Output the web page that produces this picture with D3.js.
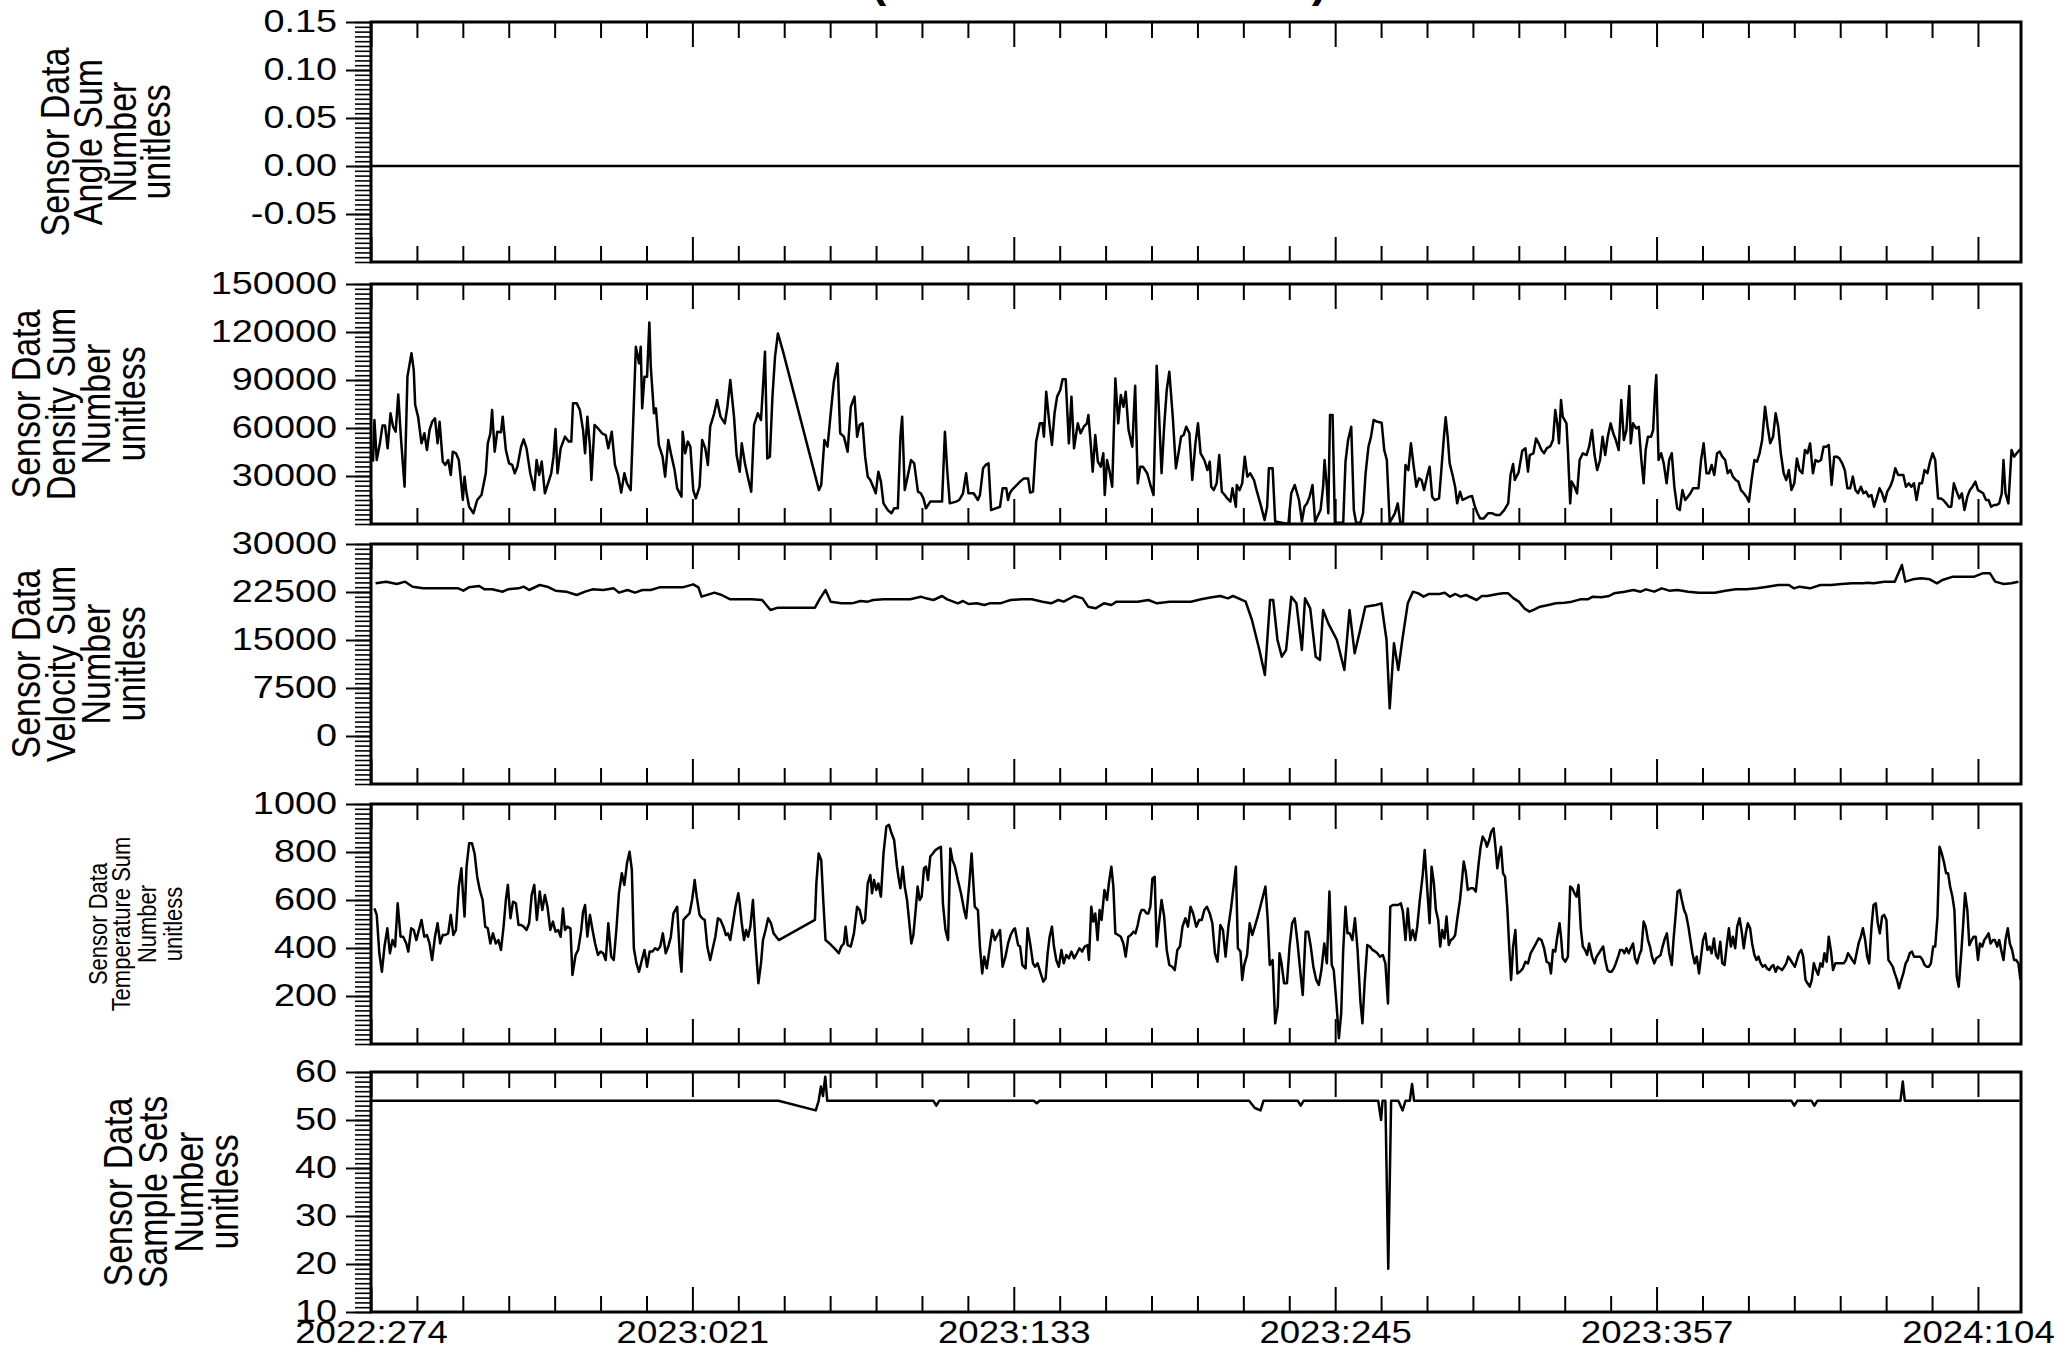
<!DOCTYPE html>
<html>
<head>
<meta charset="utf-8">
<script src="https://cdn.jsdelivr.net/npm/d3@7"></script>
<style>
  body { margin:0; background:#fff; }
  svg { display:block; }
  text { font-family:"Liberation Sans", Arial, Helvetica, sans-serif; fill:#000; }
</style>
</head>
<body>
<script>
// ---- data ----
// x is days since 2022:274
var xDomain = [0, 575];
var majorDays = [0, 112, 224, 336, 448, 560];
var majorLabels = ["2022:274", "2023:021", "2023:133", "2023:245", "2023:357", "2024:104"];
var minorStep = 16;

var panelTitles = [
  ["Sensor Data", "Angle Sum", "Number", "unitless"],
  ["Sensor Data", "Density Sum", "Number", "unitless"],
  ["Sensor Data", "Velocity Sum", "Number", "unitless"],
  ["Sensor Data", "Temperature Sum", "Number", "unitless"],
  ["Sensor Data", "Sample Sets", "Number", "unitless"]
];
var yDomains = [[-0.10, 0.15], [0, 150000], [-7500, 30000], [0, 1000], [10, 60]];
var yTicks = [
  [-0.05, 0, 0.05, 0.10, 0.15],
  [30000, 60000, 90000, 120000, 150000],
  [0, 7500, 15000, 22500, 30000],
  [200, 400, 600, 800, 1000],
  [10, 20, 30, 40, 50, 60]
];
var yDecimals = [2, 0, 0, 0, 0];

var angleSum = [[0, 0], [574.5, 0]];

var densitySum = [[0.7,39000],[1.2,65000],[2.0,40000],[3.1,50400],[4.0,61500],[4.9,61500],[5.8,47300],[6.8,69200],[7.7,60800],[8.6,57700],[9.5,81000],[10.4,54600],[11.7,23300],[12.7,92100],[14.1,106700],[14.9,96200],[15.4,74400],[16.4,67100],[17.6,50400],[18.6,56700],[19.5,46200],[20.4,58700],[21.3,63900],[22.3,66000],[23.2,50400],[23.9,63900],[25.0,39000],[25.9,36900],[26.9,40000],[27.8,30600],[28.5,45200],[29.6,44200],[30.6,40000],[31.5,24400],[32.0,15000],[32.6,29600],[33.3,19200],[34.2,10800],[35.7,6700],[37.0,15000],[38.5,18100],[40.0,31700],[40.7,50400],[41.6,56700],[42.2,71200],[43.1,45200],[44.0,57700],[45.3,57300],[45.9,67100],[47.0,46200],[48.1,37900],[49.2,36900],[50.1,31700],[51.0,35800],[52.3,48300],[53.2,52900],[54.2,47300],[55.5,31700],[56.9,21200],[57.7,40000],[58.6,30600],[59.5,39000],[60.6,19200],[61.7,25400],[62.8,31700],[63.6,42100],[64.3,59400],[65.0,31700],[66.1,47300],[67.6,54600],[68.9,51500],[69.8,51500],[70.4,75400],[71.7,75400],[72.8,71200],[73.9,58700],[74.6,44200],[75.4,67100],[76.3,48300],[76.8,27500],[77.9,61900],[79.1,59800],[80.5,56700],[81.8,55600],[82.7,47300],[83.9,57700],[85.0,36900],[86.1,30600],[87.2,19600],[88.3,31700],[89.2,25400],[90.5,21200],[91.4,65000],[92.3,110800],[93.4,100400],[94.0,110800],[94.5,72300],[95.3,92100],[96.2,92100],[97.0,126000],[97.5,98300],[98.6,69200],[99.3,72300],[100.3,49400],[101.6,42100],[102.5,29600],[103.6,52500],[104.5,44200],[105.8,33700],[106.7,22300],[108.2,17100],[108.6,57700],[109.5,44200],[110.4,51500],[111.3,48300],[112.3,21200],[113.2,16000],[114.5,23300],[115.4,52500],[116.5,47300],[117.4,36900],[118.2,60800],[119.6,69200],[120.6,77500],[121.8,67100],[123.3,62900],[124.2,73300],[125.2,90000],[126.5,67100],[127.4,43100],[128.5,32700],[129.2,50400],[130.3,37900],[131.3,29600],[132.5,20200],[133.5,61900],[134.8,69200],[135.9,65000],[136.6,85800],[137.3,107700],[138.1,41000],[139.0,42100],[139.9,79600],[140.8,104600],[141.8,119100],[143.6,107700],[156.1,21200],[156.9,24400],[158.0,52500],[159.1,48300],[160.2,69200],[161.3,88900],[162.6,100400],[163.5,56700],[164.8,54600],[166.1,45200],[167.2,73300],[168.5,79600],[169.4,54600],[170.3,61900],[171.3,62900],[172.2,42100],[173.1,29600],[174.0,27500],[175.0,23300],[175.9,19200],[176.8,32700],[177.7,26500],[178.6,12900],[180.1,8700],[181.4,6700],[182.3,9800],[183.6,9800],[184.5,54600],[185.1,67100],[186.0,21200],[187.0,29600],[188.2,40000],[189.3,37900],[190.6,20200],[191.6,19200],[192.5,16000],[193.4,9800],[194.9,14000],[199.0,14000],[200.0,57700],[200.8,33700],[201.7,12900],[203.9,14000],[205.0,15000],[206.3,19200],[207.4,31700],[208.2,19200],[210.0,19200],[211.5,15000],[212.2,18100],[213.3,34800],[214.2,36900],[215.2,37900],[216.1,8700],[219.2,10800],[220.1,22300],[221.4,22300],[222.0,15000],[222.6,19200],[223.3,21200],[226.2,26500],[227.5,28500],[229.0,28500],[229.7,19600],[230.7,20200],[231.8,51500],[233.1,62900],[234.0,62900],[234.5,54600],[235.3,82700],[236.4,62900],[237.3,49400],[238.2,69200],[239.1,79600],[240.2,83700],[241.0,90400],[242.1,90400],[243.2,50400],[244.1,79600],[245.0,47300],[246.3,62900],[247.3,56700],[248.4,60800],[249.5,62900],[250.0,68100],[250.8,50400],[251.5,32700],[252.4,55600],[253.3,39000],[254.3,35800],[255.2,44200],[255.7,18100],[256.5,40000],[257.4,32700],[258.3,23300],[259.4,91000],[260.4,62900],[261.3,80600],[262.2,73300],[263.0,82700],[264.0,58700],[265.3,48300],[266.3,86400],[267.2,25400],[268.1,35800],[269.0,35800],[270.5,31700],[271.8,23300],[272.7,18100],[273.8,98900],[274.6,69200],[275.5,31700],[276.4,60800],[277.3,83700],[278.2,95200],[279.4,67100],[280.5,34800],[281.4,44200],[282.3,54600],[283.2,55600],[284.1,60800],[285.2,56700],[286.2,27500],[287.3,50400],[288.2,62900],[289.1,44200],[290.4,40000],[291.5,33700],[292.3,39000],[292.8,23300],[293.7,21200],[294.7,25400],[295.6,43100],[296.5,20200],[297.5,18100],[298.4,16000],[299.5,14000],[300.2,22300],[301.4,10800],[301.7,24400],[302.7,21200],[303.6,25400],[304.5,42100],[305.4,29600],[306.4,31700],[307.7,27500],[308.6,21200],[309.9,12900],[311.4,2500],[312.3,10800],[312.9,34800],[314.2,34800],[315.1,1500],[319.7,0],[320.7,19200],[321.9,24400],[323.4,15000],[324.4,1500],[325.3,10800],[326.2,12900],[327.1,17100],[328.1,24400],[329.0,1500],[330.9,8700],[331.8,23300],[332.3,40000],[333.1,23300],[333.6,6700],[334.2,68100],[335.1,68100],[335.9,800],[338.8,800],[339.6,39000],[340.5,52500],[341.6,60800],[342.5,8700],[343.3,800],[344.8,800],[345.7,6700],[346.6,31700],[347.6,48300],[348.5,54600],[349.4,65000],[350.7,63900],[352.2,63300],[353.1,46200],[354.0,40000],[355.0,800],[356.8,6700],[357.8,12900],[358.7,800],[359.6,800],[360.5,36900],[361.5,33700],[362.4,50400],[363.3,36900],[364.3,23300],[365.2,28500],[366.1,27500],[367.0,21200],[368.0,29600],[368.9,35800],[369.8,17100],[370.7,15000],[372.2,16000],[373.0,33700],[373.9,54600],[374.5,66700],[375.2,54600],[375.9,37900],[376.9,30600],[377.8,23300],[378.5,12900],[379.5,20200],[380.4,15000],[381.5,16000],[382.8,17100],[383.7,17500],[384.7,10800],[385.6,6700],[386.5,3500],[387.8,3500],[389.3,6700],[390.8,6700],[392.1,5600],[393.4,5600],[394.9,8700],[396.3,12900],[397.1,30600],[398.0,37500],[398.6,27500],[399.9,32100],[401.2,45800],[402.3,47300],[403.2,32700],[403.8,43100],[405.1,44200],[406.0,53500],[406.9,50400],[407.9,46200],[408.8,44200],[409.7,47300],[411.0,48700],[411.9,52500],[412.7,71200],[413.4,62900],[414.0,50400],[414.7,77500],[415.3,67100],[416.6,62900],[417.1,46200],[417.9,12900],[418.4,26500],[419.4,23300],[420.3,19200],[421.2,40000],[422.3,44200],[423.6,43100],[424.5,48300],[425.5,58700],[426.4,43100],[427.3,33700],[428.3,40000],[429.2,54600],[430.1,43100],[431.0,54600],[432.0,62900],[432.9,56700],[433.8,52500],[434.8,46200],[435.7,77500],[436.6,52500],[437.5,58700],[438.5,86200],[439.0,50400],[439.8,62900],[440.9,59800],[441.8,60800],[442.7,40000],[443.5,25400],[444.2,46200],[445.0,54600],[446.1,54600],[446.8,58700],[447.5,83700],[447.9,93100],[448.7,40000],[449.6,44200],[450.5,37900],[451.5,25400],[452.4,40000],[453.3,44200],[454.2,23300],[455.2,9800],[456.1,8700],[457.0,21200],[458.0,15000],[458.9,17100],[459.8,19200],[460.7,22300],[462.6,22300],[463.5,40000],[464.4,50400],[465.4,31700],[466.3,31700],[467.2,36900],[468.1,30600],[469.1,44200],[470.0,45200],[470.9,42100],[471.9,40000],[472.8,31700],[473.7,33700],[474.6,29600],[475.6,27500],[476.5,26500],[477.4,21200],[478.4,19200],[479.3,17100],[480.2,14000],[481.1,27500],[482.1,40000],[483.0,39000],[483.9,44200],[484.8,52500],[485.8,73300],[486.7,60800],[487.6,50400],[488.6,54600],[489.5,69200],[490.4,60800],[491.3,44200],[492.3,31700],[493.2,27500],[494.1,33700],[495.0,21200],[496.0,25400],[496.9,41000],[497.8,33700],[498.8,31700],[499.7,46200],[500.6,44200],[501.5,50400],[502.5,31700],[503.4,40000],[504.3,39000],[505.3,40000],[506.2,48300],[507.1,48300],[508.0,49400],[509.0,24400],[509.9,42100],[510.8,42100],[511.7,41000],[512.7,37900],[513.6,33700],[514.5,22300],[515.5,22300],[516.4,29600],[517.3,21200],[518.2,19200],[519.2,23300],[520.1,19200],[521.0,20200],[521.9,17100],[522.9,18100],[523.8,10800],[524.7,16000],[525.7,22300],[526.6,19200],[527.5,14000],[528.4,20200],[529.4,23300],[530.3,27500],[531.2,34800],[532.2,30600],[534.0,30600],[534.9,23300],[535.9,25400],[536.8,23300],[537.7,25400],[538.6,15000],[539.6,25400],[540.5,25400],[541.4,33700],[542.4,31700],[543.3,39000],[544.2,44200],[545.1,40000],[546.1,16000],[547.0,16000],[547.9,15000],[548.9,12900],[549.8,10800],[550.7,10800],[551.6,25400],[552.6,20200],[553.5,16000],[554.4,19200],[555.3,8700],[556.3,17100],[557.2,21200],[558.1,23300],[559.1,26500],[560.0,21200],[560.9,20200],[561.8,19200],[562.8,15000],[563.7,15000],[564.6,10800],[565.6,11900],[566.5,11900],[567.4,12900],[568.3,19200],[568.9,40000],[569.6,19200],[570.6,12900],[571.1,27500],[571.7,46200],[572.6,42100],[573.5,44200],[574.5,46200],[575.4,47300]];

var velocitySum = [[1.6,23854],[5.3,24115],[9.0,23750],[11.9,24115],[14.5,23333],[18.2,23073],[23.7,23073],[30.4,23073],[32.2,22708],[34.1,23229],[37.7,23438],[39.6,22917],[42.2,22917],[45.9,22552],[47.7,22917],[51.4,23073],[53.2,23333],[55.1,22813],[58.8,23594],[61.4,23333],[64.3,22708],[68.0,22552],[71.7,22031],[74.6,22552],[77.2,22917],[80.9,22813],[84.6,23073],[86.4,22396],[89.4,22813],[92.0,22396],[94.6,22813],[97.5,22813],[100.5,23229],[104.9,23229],[108.6,23229],[112.3,23698],[114.1,23229],[115.2,21771],[119.7,22396],[122.2,22031],[125.2,21354],[127.8,21354],[132.6,21354],[136.3,21250],[139.2,19688],[141.8,20052],[145.5,20052],[151.0,20052],[154.7,20052],[156.5,21510],[158.4,22813],[160.2,20990],[163.9,20729],[167.6,20729],[170.6,21094],[173.1,20990],[175.0,21250],[178.7,21354],[182.4,21354],[187.9,21354],[191.6,21771],[193.4,21510],[196.0,21250],[199.0,21875],[200.8,21354],[204.5,20729],[206.3,21094],[208.2,20625],[211.1,20729],[213.7,20469],[215.6,20729],[219.3,20729],[221.1,20990],[222.9,21250],[226.6,21354],[230.3,21354],[234.0,20990],[237.0,20729],[239.5,21250],[241.4,20990],[245.1,21875],[248.0,21510],[249.9,20208],[252.5,19948],[255.4,20729],[258.0,20469],[259.8,20990],[263.5,20990],[267.2,20990],[270.9,21250],[273.9,20729],[278.3,20990],[282.0,20990],[285.7,20990],[289.3,21354],[293.0,21667],[296.0,21875],[298.6,21510],[300.4,21875],[302.3,21510],[304.8,20990],[307.0,18125],[309.6,13437],[311.5,9531],[313.3,21250],[314.4,21250],[315.9,15000],[317.4,12396],[318.9,13437],[320.7,21771],[322.5,20729],[324.4,13437],[325.5,21510],[327.3,19948],[329.2,12396],[330.7,11875],[331.8,19688],[333.6,17604],[336.6,15000],[339.2,10312],[341.0,19688],[342.8,12917],[344.7,16563],[346.5,20208],[350.2,20469],[352.1,20729],[353.9,15000],[355.0,4323],[356.5,14479],[358.0,10312],[359.4,15000],[361.3,20729],[363.1,22552],[365.0,22292],[366.8,21771],[368.7,22188],[372.3,22188],[374.2,22396],[376.0,21771],[377.9,22188],[379.7,21771],[381.6,22031],[385.3,21250],[387.1,21875],[389.0,21875],[392.6,22188],[394.5,22292],[396.3,22292],[398.2,21510],[400.0,20990],[401.9,19948],[403.7,19427],[405.5,19792],[407.4,20208],[410.3,20469],[412.9,20729],[415.9,20833],[418.5,20990],[421.4,21354],[424.0,21354],[425.8,21771],[428.8,21667],[431.4,21875],[433.2,22292],[436.9,22552],[439.9,22813],[442.4,22552],[444.3,22917],[447.2,22552],[449.8,23073],[452.4,22708],[455.3,22813],[459.0,22552],[462.7,22396],[468.3,22396],[472.0,22708],[475.6,22917],[479.3,22917],[483.0,23073],[486.7,23333],[490.4,23594],[494.1,23594],[495.9,23073],[497.8,23333],[501.5,23073],[505.1,23594],[508.8,23594],[512.5,23750],[516.2,23854],[519.9,23854],[521.7,23958],[523.6,23854],[527.3,24115],[531.0,24115],[533.5,26719],[534.7,24115],[537.3,24479],[540.2,24635],[543.2,24479],[545.7,23854],[547.6,24375],[551.3,24896],[555.0,24896],[558.7,24896],[561.6,25417],[564.2,25417],[566.0,24115],[569.0,23750],[571.6,23854],[574.1,24115]];

var temperatureSum = [[1.2,565],[2.0,538],[2.9,378],[3.8,301],[4.7,406],[5.7,482],[6.6,378],[7.5,433],[8.4,406],[9.3,586],[10.3,447],[11.2,447],[12.3,419],[13.0,385],[14.0,482],[14.9,475],[15.8,433],[16.7,475],[17.6,517],[18.6,447],[19.5,454],[20.4,419],[21.3,350],[22.3,447],[23.2,503],[24.1,419],[25.0,454],[25.9,454],[26.9,461],[27.8,538],[28.7,454],[29.6,475],[30.6,656],[31.5,732],[32.0,635],[32.6,531],[33.3,739],[34.2,836],[35.2,836],[36.1,794],[37.0,697],[37.9,642],[38.9,600],[39.8,489],[40.7,482],[41.6,419],[42.5,461],[43.5,419],[44.4,433],[45.3,392],[46.2,489],[47.0,600],[47.7,663],[48.6,524],[49.5,593],[50.5,586],[51.4,496],[52.3,496],[53.2,489],[54.2,475],[55.1,503],[56.0,621],[56.9,663],[57.8,517],[58.8,635],[59.7,558],[60.6,621],[61.5,572],[62.5,475],[63.4,510],[64.3,468],[65.2,475],[66.1,447],[66.9,565],[67.6,475],[68.4,489],[69.5,482],[70.2,288],[71.3,371],[72.2,392],[73.2,468],[73.9,551],[74.6,579],[75.4,447],[76.3,538],[77.2,475],[78.1,419],[79.1,371],[80.0,385],[80.9,378],[81.8,350],[82.7,503],[83.7,364],[84.6,350],[85.5,475],[86.4,628],[87.4,711],[88.3,663],[89.2,753],[90.1,801],[90.9,725],[91.6,399],[92.5,336],[93.4,301],[94.4,350],[95.3,392],[96.2,322],[97.1,385],[98.1,385],[99.0,399],[99.9,392],[100.8,406],[101.7,461],[102.7,378],[103.6,406],[104.5,447],[105.4,544],[106.7,572],[107.6,371],[108.2,301],[108.9,517],[109.9,531],[111.0,544],[111.9,600],[112.8,683],[113.5,614],[114.5,538],[115.4,524],[116.3,517],[117.2,406],[118.2,350],[119.1,399],[120.0,447],[120.9,524],[121.8,517],[122.8,489],[123.7,454],[124.4,461],[125.2,433],[126.1,503],[127.0,572],[128.0,628],[128.5,586],[129.2,503],[130.0,433],[130.7,475],[131.4,447],[132.2,489],[133.1,600],[134.0,419],[135.0,253],[135.9,336],[136.6,433],[137.5,475],[138.4,524],[139.4,503],[140.3,461],[141.2,447],[142.1,433],[154.7,517],[155.2,669],[156.0,794],[156.9,767],[157.6,600],[158.4,433],[159.8,419],[160.9,406],[162.0,392],[163.0,378],[163.9,406],[164.8,419],[165.4,489],[166.1,412],[167.2,406],[168.3,461],[169.4,572],[170.3,558],[171.3,503],[172.2,517],[173.1,669],[174.0,704],[174.6,628],[175.3,683],[176.1,642],[176.8,669],[177.7,614],[178.6,794],[179.6,906],[180.5,913],[181.4,878],[182.3,850],[183.3,739],[183.8,697],[184.5,649],[185.3,739],[186.0,656],[186.8,600],[187.5,517],[188.3,419],[189.0,454],[189.7,544],[190.5,656],[191.2,600],[191.9,614],[192.7,732],[193.4,739],[194.1,683],[194.9,781],[195.8,794],[196.7,808],[197.6,815],[198.6,822],[199.3,586],[200.2,475],[201.1,433],[201.9,815],[202.6,767],[203.5,739],[204.5,683],[205.6,628],[206.7,558],[207.4,524],[208.5,669],[209.3,794],[210.4,572],[211.5,558],[212.2,406],[213.0,294],[213.7,364],[214.6,315],[215.5,392],[216.5,475],[217.4,433],[218.3,454],[219.2,475],[220.1,322],[221.1,364],[222.0,419],[222.9,454],[223.8,475],[224.4,482],[225.5,412],[226.2,406],[227.0,329],[228.1,315],[228.8,482],[229.7,419],[230.7,336],[231.4,322],[232.3,336],[233.2,301],[234.3,260],[235.1,274],[235.8,378],[236.5,447],[237.3,489],[238.0,406],[238.8,350],[239.7,322],[240.6,392],[241.4,336],[242.3,371],[243.2,357],[244.1,385],[245.0,357],[246.0,378],[246.9,399],[247.8,385],[248.7,406],[249.7,412],[250.2,350],[251.0,572],[251.7,510],[252.4,544],[253.2,433],[253.9,558],[254.6,517],[255.6,642],[256.5,600],[257.2,676],[258.0,739],[258.7,656],[259.4,461],[260.4,454],[261.3,447],[262.2,419],[263.0,364],[263.9,447],[264.8,454],[265.7,468],[266.4,461],[267.2,496],[267.9,538],[268.5,558],[269.4,558],[270.3,544],[270.9,544],[271.6,572],[272.3,690],[273.1,697],[273.8,406],[274.6,503],[275.5,600],[276.4,531],[277.3,392],[278.2,329],[279.2,322],[280.1,308],[281.0,392],[281.9,406],[282.8,489],[283.8,524],[284.7,489],[285.6,572],[286.5,544],[287.6,489],[288.6,517],[289.5,517],[290.4,558],[291.3,572],[292.3,544],[293.2,503],[294.1,378],[295.0,343],[296.0,496],[296.9,475],[297.8,364],[298.8,489],[299.7,565],[300.6,656],[301.4,739],[302.1,399],[303.0,385],[303.6,267],[304.3,329],[305.3,371],[306.2,503],[307.1,454],[308.0,489],[309.0,531],[309.9,572],[310.8,614],[311.7,656],[312.5,517],[313.2,329],[314.2,350],[315.1,86],[316.0,156],[316.6,378],[317.3,336],[318.2,253],[319.2,253],[320.1,406],[321.0,503],[321.9,524],[322.9,419],[323.8,308],[324.7,204],[325.7,468],[326.6,468],[327.5,406],[328.4,322],[329.4,267],[330.3,246],[331.2,308],[332.2,419],[333.1,336],[334.0,635],[334.8,329],[335.5,308],[336.4,176],[337.3,24],[338.1,128],[338.8,392],[339.6,572],[340.3,461],[341.1,461],[342.0,433],[342.9,524],[343.8,392],[344.8,176],[345.5,86],[346.3,260],[347.2,412],[348.1,406],[349.0,392],[350.0,385],[350.7,378],[351.6,364],[352.6,371],[353.5,336],[354.4,169],[355.2,572],[356.1,579],[357.0,579],[357.9,579],[358.9,586],[359.6,551],[360.5,433],[361.3,565],[362.2,433],[363.0,475],[363.9,433],[364.6,489],[365.5,600],[366.5,704],[367.2,808],[368.1,642],[368.9,503],[369.6,739],[370.4,669],[371.1,558],[371.9,517],[372.6,406],[373.3,475],[374.1,440],[374.8,531],[375.6,412],[376.3,433],[377.1,440],[377.8,454],[378.5,517],[379.5,600],[380.2,683],[380.8,760],[381.5,718],[382.2,642],[383.2,649],[384.1,649],[385.0,635],[386.0,753],[386.7,822],[387.4,864],[388.4,843],[388.9,822],[389.7,850],[390.4,885],[391.2,899],[391.9,815],[392.5,732],[393.0,774],[393.8,822],[394.5,711],[395.2,697],[396.0,565],[396.7,392],[397.3,267],[398.0,406],[398.8,475],[399.5,294],[400.4,301],[401.4,315],[402.3,343],[403.2,336],[404.1,378],[405.1,399],[406.0,419],[406.9,440],[407.9,433],[408.8,399],[409.7,343],[410.6,336],[411.2,294],[411.9,392],[412.7,385],[413.4,447],[414.2,503],[414.7,447],[415.3,357],[416.2,343],[417.1,364],[417.9,656],[418.6,649],[419.4,628],[420.1,614],[420.8,663],[421.6,482],[422.3,406],[423.1,392],[423.8,371],[424.5,419],[425.5,364],[426.4,336],[427.1,364],[427.9,378],[428.6,392],[429.4,406],[430.1,350],[430.9,308],[431.6,301],[432.3,301],[433.1,315],[433.8,336],[434.8,371],[435.3,392],[436.1,392],[436.8,378],[437.5,399],[438.3,378],[439.0,399],[439.8,419],[440.5,357],[441.2,336],[442.0,371],[442.7,392],[443.5,510],[444.2,489],[445.0,433],[445.7,406],[446.4,364],[447.2,336],[447.9,357],[448.7,364],[449.4,371],[450.1,406],[450.9,440],[451.6,461],[452.4,378],[453.3,329],[453.9,433],[454.6,531],[455.3,635],[456.1,642],[456.8,600],[457.6,558],[458.3,538],[459.1,489],[459.8,433],[460.5,378],[461.3,336],[462.0,364],[462.8,294],[463.5,364],[464.2,433],[465.0,461],[465.7,392],[466.5,406],[467.2,378],[468.0,440],[468.7,371],[469.4,357],[470.2,426],[470.9,336],[471.7,329],[472.4,406],[473.2,482],[473.9,406],[474.6,447],[475.4,399],[476.1,489],[476.9,524],[477.6,475],[478.4,399],[479.1,461],[479.8,503],[480.6,482],[481.3,419],[482.1,371],[482.8,350],[483.5,364],[484.3,336],[485.0,322],[485.8,329],[486.5,315],[487.3,308],[488.0,322],[488.7,329],[489.5,301],[490.2,322],[491.0,315],[491.7,308],[492.5,322],[493.2,336],[493.9,364],[494.7,350],[495.4,336],[496.2,322],[496.9,350],[497.6,378],[498.4,392],[499.1,364],[499.9,267],[500.6,253],[501.4,239],[502.1,267],[502.8,336],[503.6,308],[504.3,288],[505.1,336],[505.8,322],[506.5,378],[507.3,343],[508.0,447],[508.8,385],[509.5,308],[510.3,336],[513.2,336],[514.0,350],[514.7,378],[515.5,364],[516.2,350],[517.0,336],[517.7,378],[518.4,419],[519.2,447],[519.9,482],[520.7,433],[521.4,364],[522.1,336],[522.9,489],[523.6,579],[524.4,586],[525.1,503],[525.8,461],[526.6,531],[527.3,538],[528.1,517],[528.8,350],[529.6,336],[530.3,322],[531.0,294],[531.8,267],[532.5,232],[533.3,267],[534.0,294],[534.8,336],[535.5,350],[536.2,378],[537.0,385],[537.7,364],[539.9,364],[540.7,350],[541.4,329],[542.2,322],[542.9,322],[543.6,336],[544.4,406],[545.1,406],[545.9,531],[546.6,822],[547.4,794],[548.1,760],[548.9,711],[549.6,711],[550.3,656],[551.1,614],[551.8,558],[552.6,281],[553.3,239],[554.1,364],[554.8,489],[555.5,628],[556.3,558],[557.0,412],[557.8,433],[558.5,447],[559.2,447],[560.0,350],[560.7,419],[561.5,406],[562.2,433],[563.0,447],[563.7,461],[564.4,419],[565.2,433],[565.9,433],[566.7,406],[567.4,433],[568.1,392],[568.9,350],[569.6,433],[570.4,482],[571.1,419],[571.9,392],[572.6,350],[573.3,350],[574.1,336],[574.8,267]];

var sampleSets = [[0,54],[142,54],[155,52],[156,54],[156.8,57],[157.5,55],[158.3,59],[159,54],[196,54],[197,53],[198,54],[231,54],[232,53.5],[233,54],[306,54],[308,52.5],[310,52],[311,54],[323,54],[324,53],[325,54],[351,54],[352,50],[352.5,54],[353.5,54],[354.5,19],[355.5,54],[358,54],[359.5,52],[360.5,54],[362,54],[362.8,57.5],[363.5,54],[495,54],[496,53],[497,54],[502,54],[503,53],[504,54],[533,54],[533.8,58],[534.5,54],[574.5,54]];

var series = [angleSum, densitySum, velocitySum, temperatureSum, sampleSets];

// ---- layout ----
var W = 2070, H = 1346;
var plotLeft = 371, plotRight = 2021;
var panelTops = [22, 284, 544, 804, 1072];
var panelH = 240;
var titleSize = [34, 34, 34, 22, 34];
var titleLines = [[69, 102, 136, 170], [40, 75, 110, 145], [40, 75, 110, 145], [107, 130, 156, 182], [132, 167, 203, 238]];
var wide = 1.18;       // the reference text is drawn wide
var wideTicks = 1.22;  // y tick numbers

var svg = d3.select("body").append("svg")
            .attr("width", W)
            .attr("height", H);

svg.append("rect").attr("width", W).attr("height", H).attr("fill", "#fff");

var x = d3.scaleLinear().domain(xDomain).range([plotLeft, plotRight]);
var minorDays = d3.range(0, xDomain[1] + 1, minorStep).filter(function(d){ return majorDays.indexOf(d) < 0; });

// stretch helper: set a text to k times its natural width
function stretch(sel, k){
  sel.each(function(){
    var w = this.getComputedTextLength();
    d3.select(this).attr("textLength", w * k).attr("lengthAdjust", "spacingAndGlyphs");
  });
}

var defs = svg.append("defs");

panelTitles.forEach(function(lines, i){
  var top = panelTops[i], bottom = top + panelH;
  var y = d3.scaleLinear().domain(yDomains[i]).range([bottom, top]);
  var g = svg.append("g").attr("class", "panel" + i);

  defs.append("clipPath").attr("id", "clip" + i)
      .append("rect").attr("x", plotLeft).attr("y", top)
      .attr("width", plotRight - plotLeft).attr("height", panelH);

  // data line
  g.append("path")
    .datum(series[i])
    .attr("clip-path", "url(#clip" + i + ")")
    .attr("fill", "none")
    .attr("stroke", "#000")
    .attr("stroke-width", 2.5)
    .attr("stroke-linejoin", "round")
    .attr("d", d3.line().x(function(d){ return x(d[0]); }).y(function(d){ return y(d[1]); }));

  // x ticks, bottom and top, pointing inward
  function xAxis(gen, ty, vals, len){
    g.append("g").attr("transform", "translate(0," + ty + ")")
      .call(gen(x).tickValues(vals).tickSize(-len).tickFormat(""))
      .call(function(a){ a.select(".domain").remove(); a.selectAll("line").attr("stroke-width", 2); });
  }
  xAxis(d3.axisBottom, bottom, majorDays, 25);
  xAxis(d3.axisBottom, bottom, minorDays, 16);
  xAxis(d3.axisTop, top, majorDays, 25);
  xAxis(d3.axisTop, top, minorDays, 16);

  // y minor ticks
  var step = yTicks[i][1] - yTicks[i][0];
  var minorY = d3.range(0, 51).map(function(k){ return yDomains[i][0] + k * step / 10; });
  g.append("g").attr("transform", "translate(" + plotLeft + ",0)")
    .call(d3.axisLeft(y).tickValues(minorY).tickSize(16).tickFormat(""))
    .call(function(a){ a.select(".domain").remove(); a.selectAll("line").attr("stroke-width", 1.6); });

  // y major ticks and labels
  var dec = yDecimals[i];
  g.append("g").attr("class", "yaxis").attr("transform", "translate(" + plotLeft + ",0)")
    .call(d3.axisLeft(y).tickValues(yTicks[i]).tickSize(25).tickPadding(9)
           .tickFormat(function(d){ return d.toFixed(dec); }))
    .call(function(a){
      a.select(".domain").remove();
      a.selectAll("line").attr("stroke-width", 2);
      a.selectAll("text").attr("font-size", 31).attr("fill", "#000")
        .attr("font-family", "'Liberation Sans', Arial, sans-serif")
        .call(stretch, wideTicks);
    });

  // frame
  g.append("rect").attr("x", plotLeft).attr("y", top)
    .attr("width", plotRight - plotLeft).attr("height", panelH)
    .attr("fill", "none").attr("stroke", "#000").attr("stroke-width", 3);

  // rotated axis title
  var cy = top + panelH / 2;
  lines.forEach(function(t, k){
    g.append("text")
      .attr("transform", "translate(" + titleLines[i][k] + "," + cy + ") scale(" + wide + ",1) rotate(-90)")
      .attr("text-anchor", "middle")
      .attr("font-size", titleSize[i])
      .text(t);
  });
});

// bottom time labels
var lastBottom = panelTops[4] + panelH;
svg.append("g").attr("transform", "translate(0," + lastBottom + ")")
  .call(d3.axisBottom(x).tickValues(majorDays).tickSize(0).tickPadding(9)
         .tickFormat(function(d, k){ return majorLabels[k]; }))
  .call(function(a){
    a.select(".domain").remove();
    a.selectAll("text").attr("font-size", 31).attr("fill", "#000")
      .attr("font-family", "'Liberation Sans', Arial, sans-serif")
      .call(stretch, wide);
  });

// title, mostly above the page edge
svg.append("text")
  .attr("x", 871).attr("y", -4)
  .attr("font-size", 46).attr("font-weight", "bold")
  .attr("textLength", 456).attr("lengthAdjust", "spacingAndGlyphs")
  .text("(2022:274 - 2024:119)");
</script>
</body>
</html>
